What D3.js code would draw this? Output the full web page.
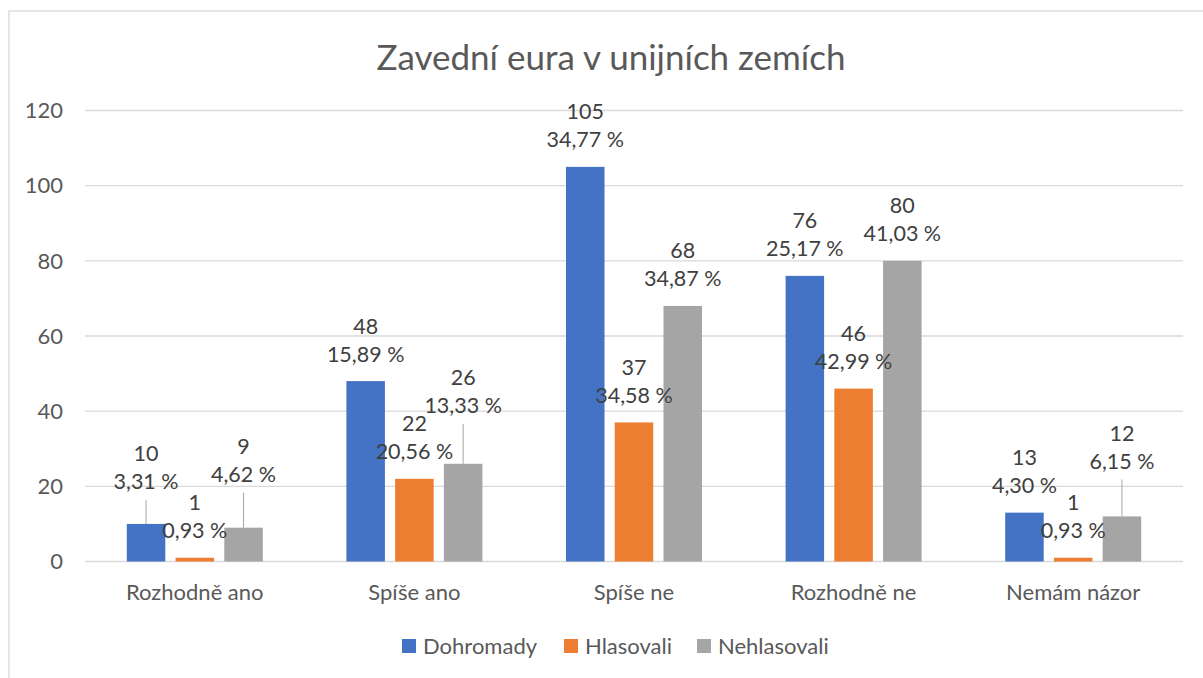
<!DOCTYPE html>
<html lang="cs">
<head>
    <meta charset="UTF-8">
    <title>Zavední eura v unijních zemích</title>
    <script src="https://d3js.org/d3.v7.min.js"></script>
    <style>
        body { margin: 0; background: #fff; }
        svg text { font-family: Lato, "Open Sans", sans-serif; }
        .grid line { stroke: #d9d9d9; stroke-width: 1.3px; }
        .tick-label { fill: #595959; font-size: 22px; }
        .data-label { fill: #404040; font-size: 21.5px; }
        .leader { stroke: #a6a6a6; stroke-width: 1px; }
    </style>
</head>
<body>
<svg width="1203" height="678"></svg>
<script>
    // Data
    const categories = ["Rozhodně ano", "Spíše ano", "Spíše ne", "Rozhodně ne", "Nemám názor"];
    const seriesNames = ["Dohromady", "Hlasovali", "Nehlasovali"];
    const dohromady = [10, 48, 105, 76, 13];
    const hlasovali = [1, 22, 37, 46, 1];
    const nehlasovali = [9, 26, 68, 80, 12];
    const dohromadyPct = ["3,31 %", "15,89 %", "34,77 %", "25,17 %", "4,30 %"];
    const hlasovaliPct = ["0,93 %", "20,56 %", "34,58 %", "42,99 %", "0,93 %"];
    const nehlasovaliPct = ["4,62 %", "13,33 %", "34,87 %", "41,03 %", "6,15 %"];
    const yTicks = [0, 20, 40, 60, 80, 100, 120];

    const colors = ["#4472c4", "#ed7d31", "#a5a5a5"];
    const values = [dohromady, hlasovali, nehlasovali];
    const pcts = [dohromadyPct, hlasovaliPct, nehlasovaliPct];

    // labels that were dragged up in the original (series-category -> px)
    const labelLift = { "0-0": 15, "2-0": 26, "2-1": 31, "2-4": 28 };

    const svg = d3.select("svg");

    // chart area border
    svg.append("rect")
        .attr("x", 9).attr("y", 11)
        .attr("width", 1203).attr("height", 700)
        .attr("fill", "none").attr("stroke", "#d9d9d9").attr("stroke-width", 1.3);

    const plotLeft = 85, plotRight = 1183, plotTop = 110.5, plotBottom = 561.5;

    const x = d3.scaleBand().domain(categories).range([plotLeft, plotRight]);
    const x1 = d3.scaleBand().domain(seriesNames).range([0, 136]).paddingInner(0.21);
    const y = d3.scaleLinear().domain([0, 120]).range([plotBottom, plotTop]);

    // gridlines
    svg.append("g").attr("class", "grid")
        .selectAll("line").data(yTicks).enter().append("line")
        .attr("x1", plotLeft).attr("x2", plotRight)
        .attr("y1", d => y(d)).attr("y2", d => y(d));

    // y tick labels
    svg.append("g").selectAll("text").data(yTicks).enter().append("text")
        .attr("class", "tick-label")
        .attr("x", 63).attr("y", d => y(d)).attr("dy", "0.35em")
        .attr("text-anchor", "end")
        .text(d => d);

    // category labels
    svg.append("g").selectAll("text").data(categories).enter().append("text")
        .attr("class", "tick-label")
        .attr("x", d => x(d) + x.bandwidth() / 2).attr("y", 592).attr("dy", "0.35em")
        .attr("text-anchor", "middle")
        .text(d => d);

    const groupOffset = (x.bandwidth() - 136) / 2;
    const barMid = d => x(d.c) + groupOffset + x1(d.s) + x1.bandwidth() / 2;

    const bars = [];
    seriesNames.forEach((s, si) => {
        categories.forEach((c, ci) => {
            bars.push({ si, ci, s, c, v: values[si][ci], p: pcts[si][ci], lift: labelLift[si + "-" + ci] || 0 });
        });
    });

    svg.append("g").selectAll("rect").data(bars).enter().append("rect")
        .attr("x", d => x(d.c) + groupOffset + x1(d.s))
        .attr("y", d => y(d.v))
        .attr("width", x1.bandwidth())
        .attr("height", d => y(0) - y(d.v))
        .attr("fill", d => colors[d.si]);

    // leader lines for moved labels
    svg.append("g").selectAll("line").data(bars.filter(d => d.lift)).enter().append("line")
        .attr("class", "leader")
        .attr("x1", barMid).attr("x2", barMid)
        .attr("y1", d => y(d.v))
        .attr("y2", d => y(d.v) - 9 - d.lift);

    // data labels
    const lbl = svg.append("g").selectAll("text").data(bars).enter().append("text")
        .attr("class", "data-label")
        .attr("text-anchor", "middle")
        .attr("x", barMid)
        .attr("y", d => y(d.v) - 55 - d.lift);
    lbl.append("tspan").attr("dy", "0.35em").text(d => d.v);
    lbl.append("tspan")
        .attr("x", barMid)
        .attr("dy", 28).text(d => d.p);

    // title
    svg.append("text")
        .attr("x", 611).attr("y", 58).attr("dy", "0.35em")
        .attr("text-anchor", "middle")
        .style("font-size", "35px").style("fill", "#595959")
        .text("Zavední eura v unijních zemích");

    // legend
    const legendX = [402, 564, 697];
    const legend = svg.append("g").selectAll("g").data(seriesNames).enter().append("g")
        .attr("transform", (d, i) => "translate(" + legendX[i] + ",646)");
    legend.append("rect")
        .attr("x", 0).attr("y", -7).attr("width", 14).attr("height", 14)
        .attr("fill", (d, i) => colors[i]);
    legend.append("text")
        .attr("class", "tick-label")
        .attr("x", 21).attr("y", 0).attr("dy", "0.35em")
        .text(d => d);
</script>
</body>
</html>
